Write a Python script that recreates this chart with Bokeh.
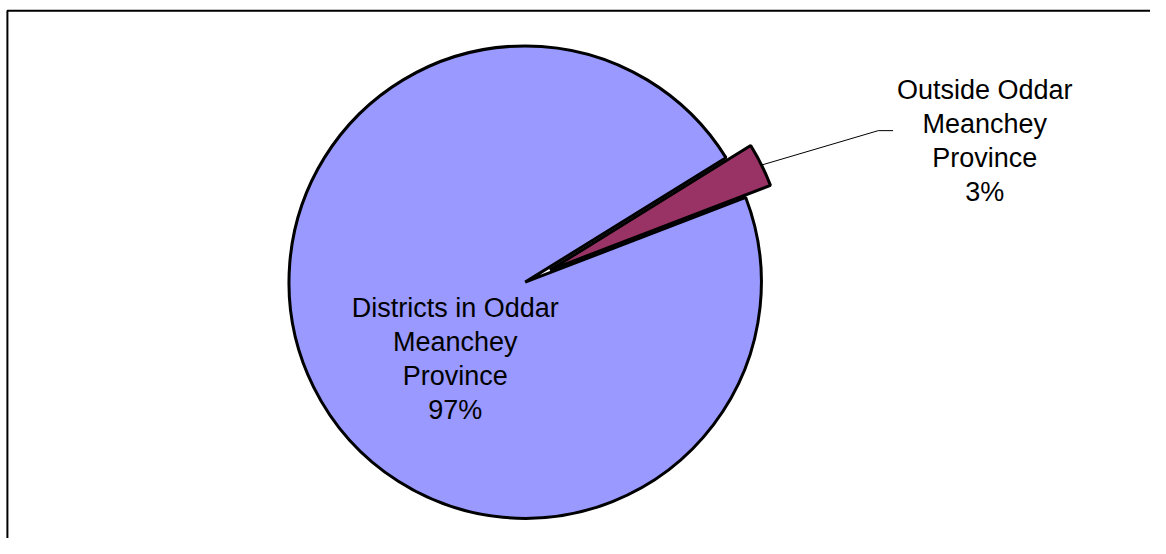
import math
from bokeh.plotting import figure
from bokeh.models import Range1d, ColumnDataSource
from bokeh.core.properties import value
from bokeh.embed import file_html
from bokeh.resources import INLINE

# ---- data ----
categories = ["Districts in Oddar Meanchey Province", "Outside Oddar Meanchey Province"]
label_lines = [["Districts in Oddar", "Meanchey", "Province"],
               ["Outside Oddar", "Meanchey", "Province"]]
values = [97, 3]
colors = ["#9999FF", "#993366"]

# ---- layout / style ----
W, H = 1150, 538
RW, RH = 1166.0, 554.0
first_slice_angle = 69.0      # degrees clockwise from 12 o'clock
cx, cy = 532.0, RH - 290.0
radius = 239.5
explode = [0.0, 28.0]
label_anchor = [(461.0, RH - 316.7), (998.0, RH - 91.7)]
line_gap = 35.0
font = value("Liberation Sans")
font_size = "27px"

p = figure(width=W, height=H, output_backend="svg", toolbar_location=None,
           x_range=Range1d(0, RW), y_range=Range1d(0, RH),
           x_axis_location=None, y_axis_location=None, min_border=0,
           outline_line_color=None, background_fill_color="white",
           border_fill_color="white")
p.xgrid.visible = False
p.ygrid.visible = False

# chart border (left and top visible)
p.line([7, 7, 1300], [-100, RH - 10.5, RH - 10.5], line_color="black", line_width=2)

total = float(sum(values))
cum = first_slice_angle
xs, ys, starts, ends, mids = [], [], [], [], []
for i, v in enumerate(values):
    c0 = cum
    c1 = cum + v / total * 360.0
    cum = c1
    start = math.radians(90.0 - c1)
    end = math.radians(90.0 - c0)
    mid = (start + end) / 2.0
    xs.append(cx + explode[i] * math.cos(mid))
    ys.append(cy + explode[i] * math.sin(mid))
    starts.append(start)
    ends.append(end)
    mids.append(mid)

src = ColumnDataSource(dict(x=xs, y=ys, s=starts, e=ends, c=colors))
p.wedge(x="x", y="y", radius=radius, start_angle="s", end_angle="e",
        fill_color="c", line_color="black", line_width=3, source=src,
        direction="anticlock")

# leader line for the small slice
sx = xs[1] + radius * math.cos(mids[1])
sy = ys[1] + radius * 1.015 * math.sin(mids[1])
elbow_y = RH - 134.0
p.line([sx, 890, 905], [sy, elbow_y, elbow_y], line_color="black", line_width=1)

# labels
tx, ty, tt = [], [], []
for i, v in enumerate(values):
    lines = label_lines[i] + ["%d%%" % round(v / total * 100)]
    ax, ay = label_anchor[i]
    for j, ln in enumerate(lines):
        tx.append(ax)
        ty.append(ay - j * line_gap)
        tt.append(ln)
p.text(x=tx, y=ty, text=tt, text_font=font, text_font_size=font_size,
       text_align="center", text_baseline="alphabetic", text_color="black")

open("out.html", "w").write(file_html(p, INLINE))
